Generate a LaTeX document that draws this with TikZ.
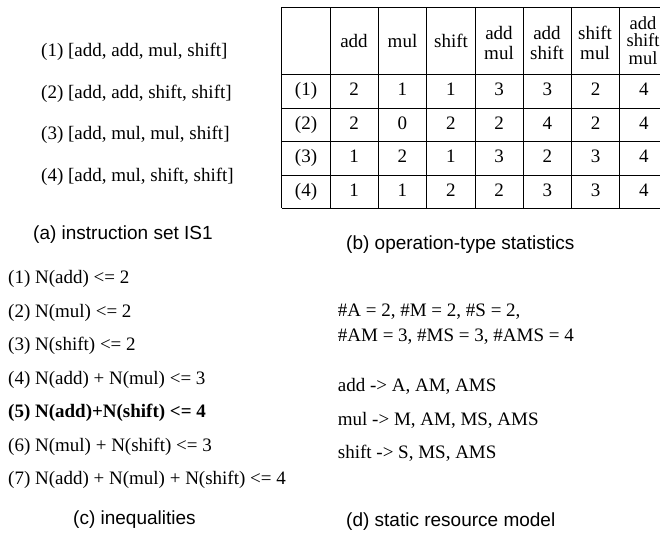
\documentclass[tikz,border=0pt]{standalone}
\usepackage{fontspec}
\setmainfont{Liberation Serif}
\newfontfamily\capfont{Liberation Sans}
\begin{document}
\begin{tikzpicture}[x=1pt,y=-1pt,
  txt/.style={anchor=west, inner sep=0pt, text height=13.3pt, text depth=3.8pt, font=\fontsize{19}{22}\selectfont},
  cell/.style={anchor=center, inner sep=0pt, text height=13.3pt, text depth=3.8pt, font=\fontsize{19}{22}\selectfont},
  hdtwo/.style={anchor=center, inner sep=0pt, align=center, font=\fontsize{19}{20}\selectfont},
  hdthree/.style={anchor=center, inner sep=0pt, align=center, font=\fontsize{18.5}{17.5}\selectfont},
  captxt/.style={anchor=west, inner sep=0pt, text height=13.6pt, text depth=4pt, font=\capfont\fontsize{19}{22}\selectfont},
  tablegrid/.style={line width=0.9pt, black}]
\useasboundingbox (0,0) rectangle (660,538);
% (a)
\node[txt] (a1) at (41,52) {(1) [add, add, mul, shift]};
\node[txt] (a2) at (41,93.5) {(2) [add, add, shift, shift]};
\node[txt] (a3) at (41,135) {(3) [add, mul, mul, shift]};
\node[txt] (a4) at (41,177) {(4) [add, mul, shift, shift]};
\node[captxt] (capa) at (33,235) {(a) instruction set IS1};
% (b) table
\foreach \y in {7,74,108,141,175,208} \draw[tablegrid] (281.7,\y) -- (660,\y);
\foreach \x in {281.7,330,378.3,426.6,475,523,571,619} \draw[tablegrid] (\x,7) -- (\x,208);
\node[cell] (h1) at (354,43) {add};
\node[cell] (h2) at (402.5,43) {mul};
\node[cell] (h3) at (451,43) {shift};
\node[hdtwo] (h4) at (499,43) {add\\mul};
\node[hdtwo] (h5) at (547,43) {add\\shift};
\node[hdtwo] (h6) at (595,43) {shift\\mul};
\node[hdthree] (h7) at (643,40.5) {add\\shift\\mul};
\foreach \r/\yy/\vals in {1/91/{2,1,1,3,3,2,4},2/124.5/{2,0,2,2,4,2,4},3/158/{1,2,1,3,2,3,4},4/191.5/{1,1,2,2,3,3,4}}{
  \node[cell] (r\r) at (306,\yy) {(\r)};
  \foreach \v [count=\c] in \vals {
    \pgfmathsetmacro{\xx}{330+48.3*(\c-1)+24.15}
    \node[cell] (c\r-\c) at (\xx,\yy) {\v};
  }
}
\node[captxt] (capb) at (346,245) {(b) operation-type statistics};
% (c)
\node[txt] (i1) at (8,279) {(1) N(add) <= 2};
\node[txt] (i2) at (8,313) {(2) N(mul) <= 2};
\node[txt] (i3) at (8,346) {(3) N(shift) <= 2};
\node[txt] (i4) at (8,379.5) {(4) N(add) + N(mul) <= 3};
\node[txt] (i5) at (8,413) {\bfseries (5) N(add)+N(shift) <= 4};
\node[txt] (i6) at (8,447) {(6) N(mul) + N(shift) <= 3};
\node[txt] (i7) at (8,480) {(7) N(add) + N(mul) + N(shift) <= 4};
\node[captxt] (capc) at (73,520) {(c) inequalities};
% (d)
\node[txt] (d1) at (337.7,312) {\#A = 2, \#M = 2, \#S = 2,};
\node[txt] (d2) at (337.7,337) {\#AM = 3, \#MS = 3, \#AMS = 4};
\node[txt] (d3) at (337.7,387) {add -> A, AM, AMS};
\node[txt] (d4) at (337.7,420.5) {mul -> M, AM, MS, AMS};
\node[txt] (d5) at (337.7,453.5) {shift -> S, MS, AMS};
\node[captxt] (capd) at (346,522) {(d) static resource model};
\end{tikzpicture}
\end{document}
